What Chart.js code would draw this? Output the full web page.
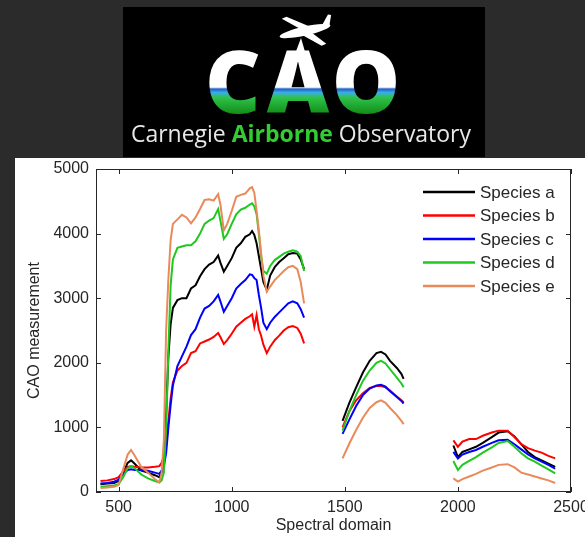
<!DOCTYPE html>
<html>
<head>
<meta charset="utf-8">
<script src="https://cdn.jsdelivr.net/npm/chart.js@4.4.1/dist/chart.umd.min.js"></script>
<style>
  html, body { margin: 0; padding: 0; background: #2b2b2b; }
  canvas { display: block; }
</style>
</head>
<body>
<canvas id="chart" width="585" height="537"></canvas>
<script>
// ── Data ─────────────────────────────────────────────────────────────────────
// null entries at 1400 and 1870 break the line over the water absorption bands
const wavelengths = [
  420, 450, 480, 500, 520, 540, 555, 570, 600, 630, 660, 680, 690, 700, 710, 720, 730, 740,
  760, 780, 800, 820, 840, 860, 880, 900, 920, 940, 950, 965, 980, 1000, 1020, 1040, 1060,
  1080, 1090, 1100, 1110, 1120, 1130, 1140, 1155, 1170, 1190, 1210, 1230, 1250, 1270, 1290,
  1305, 1320,
  1400,
  1490, 1520, 1550, 1580, 1610, 1640, 1660, 1680, 1700, 1730, 1750, 1760,
  1870,
  1980, 2000, 2020, 2050, 2080, 2110, 2150, 2180, 2220, 2250, 2280, 2310, 2340, 2370, 2400, 2430,
]

const speciesA = [
  120, 130, 140, 170, 300, 450, 490, 440, 330, 300, 260, 230, 300, 500, 1200, 2100, 2600, 2850,
  2970, 3000, 3000, 3150, 3200, 3340, 3450, 3520, 3560, 3660, 3550, 3410, 3500, 3620, 3780, 3850, 3950,
  3990, 4040, 3980, 3850, 3650, 3450, 3250, 3130, 3350, 3480, 3560, 3620, 3680, 3700, 3690,
  3600, 3450,
  null,
  1100, 1380, 1620, 1850, 2030, 2150, 2170, 2130, 2030, 1920, 1830, 1750,
  null,
  720, 540, 620, 660, 700, 760, 850, 920, 940, 860, 740, 620, 540, 490, 440, 390,
]
const speciesB = [
  170, 180, 200, 230, 320, 390, 400, 390, 380, 380, 390, 400, 450, 550, 700, 1100, 1450, 1700,
  1880, 1950, 2000, 2150, 2180, 2300, 2330, 2360, 2400, 2460, 2400, 2290, 2350, 2450, 2560, 2620, 2680,
  2720, 2750, 2560, 2740, 2520, 2420, 2280, 2150, 2250, 2350, 2420, 2500, 2550, 2570, 2540,
  2450, 2300,
  null,
  1000, 1250, 1420, 1530, 1610, 1640, 1640, 1620, 1570, 1480, 1420, 1390,
  null,
  800, 700, 780, 820, 820, 870, 920, 950, 950, 850, 740, 680, 640, 610, 560, 520,
]
const speciesC = [
  130, 140, 160, 190, 280, 340, 350, 340, 340, 330, 300, 280, 330, 400, 600, 1000, 1350, 1650,
  1950, 2100, 2250, 2430, 2520, 2700, 2840, 2880, 2950, 3050, 2950, 2790, 2880, 3000, 3150, 3220, 3280,
  3370, 3360, 3310, 3280, 3050, 2850, 2620, 2520, 2620, 2710, 2780, 2850, 2920, 2950, 2920,
  2830, 2700,
  null,
  900, 1120, 1330, 1500, 1600, 1650, 1660, 1630, 1560, 1470, 1410, 1370,
  null,
  620, 520, 580, 620, 650, 700, 760, 800, 810, 740, 660, 580, 520, 470, 420, 360,
]
const speciesD = [
  80, 90, 100, 120, 230, 370, 400, 370, 270, 210, 170, 150, 180, 300, 1000, 2200, 3200, 3600,
  3780, 3800, 3820, 3820, 3880, 4000, 4150, 4200, 4240, 4380, 4200, 3920, 3990, 4150, 4300, 4370, 4400,
  4450, 4470, 4420, 4300, 4000, 3650, 3420, 3380, 3500, 3590, 3640, 3690, 3720, 3740, 3720,
  3650, 3420,
  null,
  950, 1250, 1500, 1720, 1880, 2000, 2030, 1990, 1900, 1770, 1680, 1620,
  null,
  480, 340, 420, 480, 540, 610, 690, 760, 790, 700, 600, 520, 470, 410, 350, 290,
]
const speciesE = [
  60, 70, 80, 110, 350, 580, 650, 570, 390, 300, 200, 150, 300, 800, 2500, 3300, 3900, 4150,
  4220, 4290, 4250, 4160, 4250, 4380, 4520, 4530, 4510, 4610, 4450, 4050, 4150, 4350, 4570, 4600, 4620,
  4700, 4720, 4630, 4350, 4050, 3700, 3350, 3100, 3180, 3280, 3350, 3420, 3480, 3500, 3450,
  3250, 2920,
  null,
  520, 750, 960, 1150, 1300, 1390, 1420, 1380, 1300, 1190, 1100, 1050,
  null,
  210, 160, 200, 240, 280, 330, 380, 420, 430, 380, 300, 270, 240, 210, 180, 140,
]

const seriesNames  = ['Species a', 'Species b', 'Species c', 'Species d', 'Species e']
const seriesValues = [speciesA, speciesB, speciesC, speciesD, speciesE]
const seriesColors = ['#000000', '#ff0000', '#0000ff', '#1fc81f', '#e98a5a']

const xTicks = [500, 1000, 1500, 2000, 2500]
const yTicks = [0, 1000, 2000, 3000, 4000, 5000]

const FONT = "'Liberation Sans', Arial, sans-serif"
const INK  = '#262626'

// ── Page backdrop + CAO logo ─────────────────────────────────────────────────
function drawPlane(ctx) {
  ctx.save()
  ctx.fillStyle = '#fff'
  ctx.translate(305, 31)
  ctx.rotate(-0.22)
  // fuselage
  ctx.beginPath()
  ctx.ellipse(0, 0, 26, 4.5, 0, 0, Math.PI * 2)
  ctx.fill()
  // wings
  ctx.beginPath()
  ctx.moveTo(-4, -3); ctx.lineTo(-20, -17); ctx.lineTo(-15, -18); ctx.lineTo(6, -3)
  ctx.lineTo(6, 3); ctx.lineTo(18, 17); ctx.lineTo(13, 18); ctx.lineTo(-4, 3)
  ctx.closePath()
  ctx.fill()
  // tail
  ctx.beginPath()
  ctx.moveTo(18, -2); ctx.lineTo(26, -11); ctx.lineTo(29, -10); ctx.lineTo(25, 0)
  ctx.closePath()
  ctx.fill()
  ctx.restore()
  // beam toward the A
  ctx.beginPath()
  ctx.moveTo(301, 38); ctx.lineTo(292, 62); ctx.lineTo(308, 62)
  ctx.closePath()
  ctx.fillStyle = '#fff'
  ctx.fill()
}

function drawLogo(ctx) {
  ctx.fillStyle = '#000'
  ctx.fillRect(123, 7, 362, 150)

  drawPlane(ctx)

  const g = ctx.createLinearGradient(0, 53, 0, 113)
  g.addColorStop(0.00, '#ffffff')
  g.addColorStop(0.57, '#ffffff')
  g.addColorStop(0.60, '#1f5fc4')
  g.addColorStop(0.66, '#3aaee6')
  g.addColorStop(0.74, '#2fc24a')
  g.addColorStop(1.00, '#13901a')
  ctx.fillStyle = g
  ctx.font = "800 86px 'Open Sans', sans-serif"
  ctx.textAlign = 'center'
  ctx.textBaseline = 'alphabetic'
  ctx.fillText('C', 233, 113)
  ctx.fillText('A', 298, 113)
  ctx.fillText('O', 366, 113)

  // caption, fitted to the width it spans in the logo
  const parts = [
    { t: 'Carnegie ', f: "400 20px 'Open Sans', sans-serif", c: '#e8e8e8' },
    { t: 'Airborne', f: "700 20px 'Open Sans', sans-serif", c: '#33cc33' },
    { t: ' Observatory', f: "400 20px 'Open Sans', sans-serif", c: '#e8e8e8' },
  ]
  let total = 0
  parts.forEach(p => { ctx.font = p.f; p.w = ctx.measureText(p.t).width; total += p.w })
  const k = 340 / total
  ctx.save()
  ctx.translate(131, 142)
  ctx.scale(k, k)
  ctx.textAlign = 'left'
  let x = 0
  parts.forEach(p => { ctx.font = p.f; ctx.fillStyle = p.c; ctx.fillText(p.t, x, 0); x += p.w })
  ctx.restore()
}

const backdrop = {
  id: 'backdrop',
  beforeDraw(chart) {
    const { ctx, width, height } = chart
    ctx.save()
    ctx.fillStyle = '#2b2b2b'
    ctx.fillRect(0, 0, width, height)
    drawLogo(ctx)
    ctx.fillStyle = '#ffffff'
    ctx.fillRect(15, 158, width - 15, height - 158)
    ctx.restore()
  },
}

// ── MATLAB-style box with inward ticks, and the legend ──────────────────────
const frame = {
  id: 'frame',
  afterDraw(chart) {
    const { ctx, chartArea: a, scales } = chart
    ctx.save()
    ctx.strokeStyle = INK
    ctx.lineWidth = 1
    ctx.strokeRect(a.left + 0.5, a.top + 0.5, a.right - a.left - 1, a.bottom - a.top - 1)
    ctx.beginPath()
    scales.x.ticks.forEach(t => {
      const px = Math.round(scales.x.getPixelForValue(t.value)) + 0.5
      ctx.moveTo(px, a.bottom); ctx.lineTo(px, a.bottom - 5)
      ctx.moveTo(px, a.top);    ctx.lineTo(px, a.top + 5)
    })
    scales.y.ticks.forEach(t => {
      const py = Math.round(scales.y.getPixelForValue(t.value)) + 0.5
      ctx.moveTo(a.left, py);  ctx.lineTo(a.left + 5, py)
      ctx.moveTo(a.right, py); ctx.lineTo(a.right - 5, py)
    })
    ctx.stroke()

    // legend, top right inside the axes
    ctx.font = `17px ${FONT}`
    ctx.textBaseline = 'middle'
    ctx.textAlign = 'left'
    chart.data.datasets.forEach((ds, i) => {
      const y = 192 + i * 23.5
      ctx.beginPath()
      ctx.strokeStyle = ds.borderColor
      ctx.lineWidth = 2.5
      ctx.moveTo(423, y); ctx.lineTo(475, y)
      ctx.stroke()
      ctx.fillStyle = INK
      ctx.fillText(ds.label, 480, y + 1)
    })
    ctx.restore()
  },
}

// ── Chart ────────────────────────────────────────────────────────────────────
const datasets = seriesNames.map((name, i) => ({
  label: name,
  data: wavelengths.map((w, j) => ({ x: w, y: seriesValues[i][j] })),
  borderColor: seriesColors[i],
  borderWidth: 2,
  pointRadius: 0,
  tension: 0,
  fill: false,
  spanGaps: false,
  order: seriesNames.length - i,   // later species drawn on top, like MATLAB
}))

new Chart(document.getElementById('chart'), {
  type: 'line',
  data: { datasets },
  options: {
    responsive: false,
    animation: false,
    devicePixelRatio: 1,
    layout: { padding: { top: 169, right: 14, left: 0, bottom: 0 } },
    plugins: {
      legend: { display: false },
      tooltip: { enabled: false },
    },
    scales: {
      x: {
        type: 'linear',
        min: 400,
        max: 2500,
        grid: { display: false, drawTicks: false },
        border: { display: false },
        afterFit: s => { s.height = 45; s.paddingLeft = 0; s.paddingRight = 0 },
        afterBuildTicks: s => { s.ticks = xTicks.map(v => ({ value: v })) },
        ticks: {
          includeBounds: false,
          autoSkip: false,
          maxRotation: 0,
          padding: 6,
          color: INK,
          font: { family: FONT, size: 16 },
          callback: v => String(v),
        },
        title: {
          display: true,
          text: 'Spectral domain',
          color: INK,
          font: { family: FONT, size: 16 },
          padding: { top: 0, bottom: 2 },
        },
      },
      y: {
        type: 'linear',
        min: 0,
        max: 5000,
        grid: { display: false, drawTicks: false },
        border: { display: false },
        afterFit: s => { s.width = 96; s.paddingTop = 0; s.paddingBottom = 0 },
        afterBuildTicks: s => { s.ticks = yTicks.map(v => ({ value: v })) },
        ticks: {
          padding: 7,
          color: INK,
          font: { family: FONT, size: 16 },
          callback: v => String(v),
        },
        title: {
          display: true,
          text: 'CAO measurement',
          color: INK,
          font: { family: FONT, size: 16 },
          padding: { top: 25, bottom: 0 },
        },
      },
    },
  },
  plugins: [backdrop, frame],
})
</script>
</body>
</html>
